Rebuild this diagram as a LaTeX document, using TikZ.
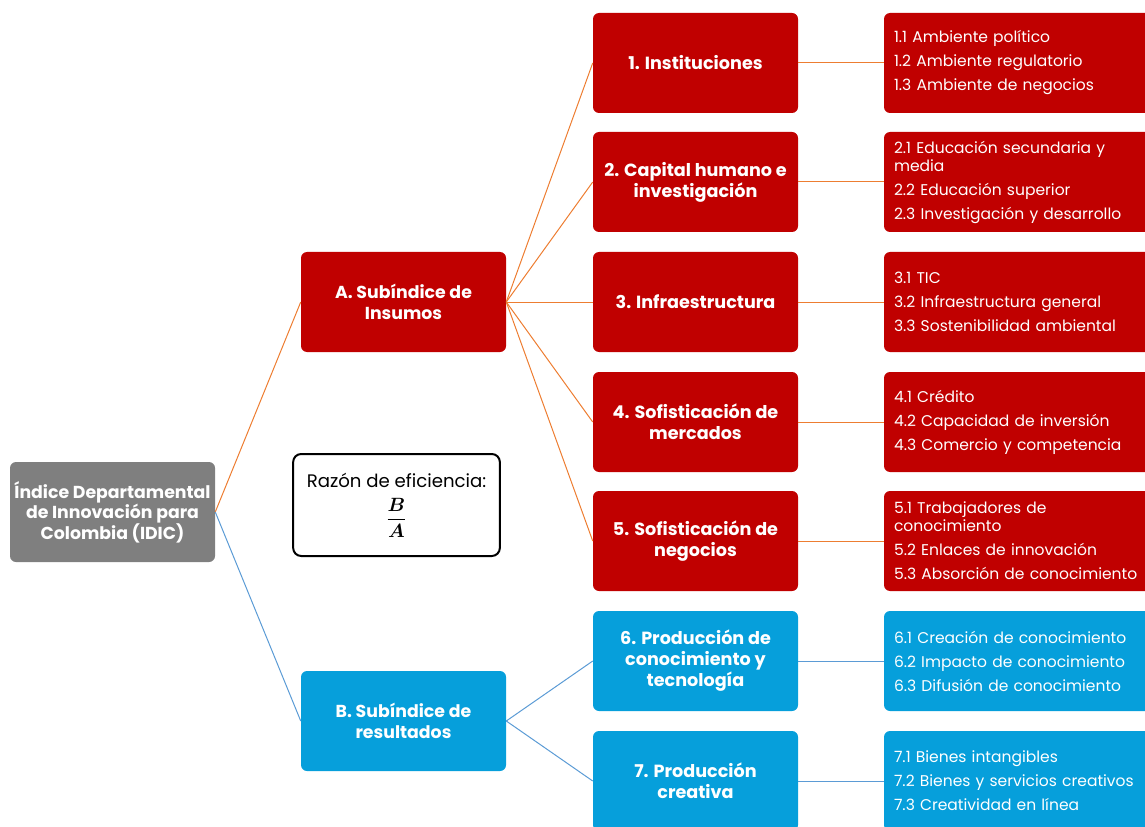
\documentclass[tikz,border=0pt]{standalone}
\usepackage{fontspec}
\usepackage{bm}
\setmainfont{Poppins}
\definecolor{redbox}{HTML}{C00000}
\definecolor{bluebox}{HTML}{069FDB}
\definecolor{graybox}{HTML}{7F7F7F}
\definecolor{orangeline}{HTML}{ED7D31}
\definecolor{blueline}{HTML}{5B9BD5}
\tikzset{
  basebox/.style={rounded corners=4.5pt, text=white, align=center, inner sep=0pt,
    minimum width=153.75pt, minimum height=75pt},
  rootbox/.style={basebox, fill=graybox, font=\fontsize{13}{15.4}\selectfont\bfseries},
  subbox/.style={basebox, font=\fontsize{13}{15.6}\selectfont\bfseries},
  pillar/.style={basebox, font=\fontsize{13.2}{15.8}\selectfont\bfseries},
  leafbox/.style={rounded corners=4.5pt, text=white, align=left, inner xsep=7.5pt, inner ysep=0pt,
    text width=192pt, minimum height=75pt, font=\fontsize{11.65}{13.5}\selectfont},
  redf/.style={fill=redbox},
  bluef/.style={fill=bluebox},
  olink/.style={draw=orangeline, line width=0.75pt},
  blink/.style={draw=blueline, line width=0.75pt},
}
\begin{document}
\begin{tikzpicture}[x=0.75pt,y=-0.75pt]
\useasboundingbox (0,0) rectangle (1145,827);
\clip (0,0) rectangle (1145,827);
% root
\node[rootbox] (root) at (112.5,512) {Índice Departamental\\de Innovación para\\Colombia (IDIC)};
% sub indices
\node[subbox,redf] (A) at (403.5,302) {A. Subíndice de\\Insumos};
\node[subbox,bluef] (B) at (403.5,721) {B. Subíndice de\\resultados};
% ratio
\node[draw=black, line width=1.5pt, rounded corners=6pt, fill=white, minimum width=155pt, minimum height=76.5pt, align=center, inner sep=0pt, font=\fontsize{13.6}{15}\selectfont] (ratio) at (396.5,505)
  {Razón de eficiencia:\\[7pt] $\displaystyle\frac{\bm{B}}{\bm{A}}$};
% pillars
\node[pillar,redf] (p1) at (695.5,63) {1. Instituciones};
\node[pillar,redf] (p2) at (695.5,182) {2. Capital humano e\\investigación};
\node[pillar,redf] (p3) at (695.5,302) {3. Infraestructura};
\node[pillar,redf] (p4) at (695.5,422) {4. Sofisticación de\\mercados};
\node[pillar,redf] (p5) at (695.5,541) {5. Sofisticación de\\negocios};
\node[pillar,bluef] (p6) at (695.5,661) {6. Producción de\\conocimiento y\\tecnología};
\node[pillar,bluef] (p7) at (695.5,781) {7. Producción\\creativa};
% leaves
\node[leafbox,redf] (l1) at (1022,63) {1.1 Ambiente político\\[4.5pt]1.2 Ambiente regulatorio\\[4.5pt]1.3 Ambiente de negocios};
\node[leafbox,redf] (l2) at (1022,182) {2.1 Educación secundaria y\\media\\[4.5pt]2.2 Educación superior\\[4.5pt]2.3 Investigación y desarrollo};
\node[leafbox,redf] (l3) at (1022,302) {3.1 TIC\\[4.5pt]3.2 Infraestructura general\\[4.5pt]3.3 Sostenibilidad ambiental};
\node[leafbox,redf] (l4) at (1022,422) {4.1 Crédito\\[4.5pt]4.2 Capacidad de inversión\\[4.5pt]4.3 Comercio y competencia};
\node[leafbox,redf] (l5) at (1022,541) {5.1 Trabajadores de\\conocimiento\\[4.5pt]5.2 Enlaces de innovación\\[4.5pt]5.3 Absorción de conocimiento};
\node[leafbox,bluef] (l6) at (1022,661) {6.1 Creación de conocimiento\\[4.5pt]6.2 Impacto de conocimiento\\[4.5pt]6.3 Difusión de conocimiento};
\node[leafbox,bluef] (l7) at (1022,781) {7.1 Bienes intangibles\\[4.5pt]7.2 Bienes y servicios creativos\\[4.5pt]7.3 Creatividad en línea};
% connectors
\draw[olink] (root.east) -- (A.west);
\draw[blink] (root.east) -- (B.west);
\foreach \p in {p1,p2,p3,p4,p5} \draw[olink] (A.east) -- (\p.west);
\foreach \p in {p6,p7} \draw[blink] (B.east) -- (\p.west);
\foreach \i in {1,...,5} \draw[olink] (p\i.east) -- (l\i.west);
\foreach \i in {6,7} \draw[blink] (p\i.east) -- (l\i.west);
\end{tikzpicture}
\end{document}
